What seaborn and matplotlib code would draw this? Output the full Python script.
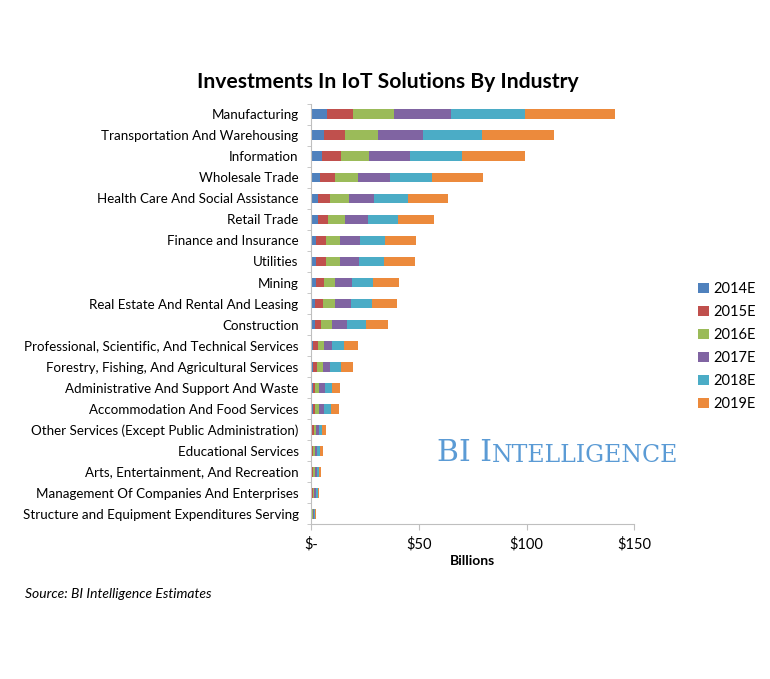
import numpy as np
import pandas as pd
import matplotlib
matplotlib.use('Agg')
import matplotlib.pyplot as plt
import seaborn as sns
from matplotlib.patches import Patch

# 업종
industries = [
    'Manufacturing',
    'Transportation And Warehousing',
    'Information',
    'Wholesale Trade',
    'Health Care And Social Assistance',
    'Retail Trade',
    'Finance and Insurance',
    'Utilities',
    'Mining',
    'Real Estate And Rental And Leasing',
    'Construction',
    'Professional, Scientific, And Technical Services',
    'Forestry, Fishing, And Agricultural Services',
    'Administrative And Support And Waste',
    'Accommodation And Food Services',
    'Other Services (Except Public Administration)',
    'Educational Services',
    'Arts, Entertainment, And Recreation',
    'Management Of Companies And Enterprises',
    'Structure and Equipment Expenditures Serving',
]

years = ['2014E', '2015E', '2016E', '2017E', '2018E', '2019E']

# 연도별 투자액 (Billions)
v2014 = [7.6, 5.9, 5.1, 4.0, 3.3, 3.0, 2.3, 2.3, 2.2, 2.0, 2.0, 1.1, 1.1, 0.9, 0.9, 0.5, 0.4, 0.4, 0.3, 0.2]
v2015 = [11.9, 9.7, 8.6, 7.3, 5.5, 4.9, 4.4, 4.4, 3.7, 3.6, 2.8, 1.9, 1.7, 1.1, 1.0, 0.7, 0.6, 0.5, 0.4, 0.3]
v2016 = [19.1, 15.3, 13.3, 10.6, 8.7, 7.8, 6.6, 6.6, 5.4, 5.3, 5.0, 3.0, 2.5, 1.7, 1.8, 1.0, 0.8, 0.7, 0.6, 0.4]
v2017 = [26.4, 21.1, 18.8, 14.8, 11.8, 10.7, 9.4, 9.0, 7.6, 7.4, 6.7, 3.9, 3.7, 2.7, 2.5, 1.4, 1.1, 1.0, 0.8, 0.5]
v2018 = [34.0, 27.3, 24.0, 19.4, 15.7, 13.8, 11.4, 11.5, 9.9, 9.8, 8.8, 5.3, 4.7, 3.2, 3.2, 1.5, 1.2, 1.1, 0.9, 0.5]
v2019 = [42.0, 33.4, 29.3, 23.8, 18.7, 17.0, 14.6, 14.4, 12.1, 11.6, 10.5, 6.4, 5.7, 3.9, 3.5, 1.7, 1.2, 1.1, 0.9, 0.6]

colors = ['#4f81bd', '#c0504d', '#9bbb59', '#8064a2', '#4bacc6', '#ec8a3c']

df = pd.DataFrame({'industry': industries})
for y, v in zip(years, [v2014, v2015, v2016, v2017, v2018, v2019]):
    df[y] = v
# 누적합
cum = df[years].cumsum(axis=1)
cum['industry'] = industries

plt.rcParams['font.family'] = ['Lato', 'DejaVu Sans']

fig = plt.figure(figsize=(7.7, 6.79), dpi=100)
ax = fig.add_axes([0.404, 0.228, 0.42, 0.619])

# 큰 누적값부터 그려서 누적 막대 만들기
for y, c in reversed(list(zip(years, colors))):
    sns.barplot(data=cum, y='industry', x=y, color=c, saturation=1,
                orient='h', width=0.47, ax=ax)

ax.set_xlim(0, 150)
ax.set_ylim(len(industries) - 0.5, -0.5)
ax.set_xticks([0, 50, 100, 150])
ax.set_xticklabels(['$-', '$50', '$100', '$150'], fontsize=10.5)
ax.set_xlabel('Billions', fontsize=10, fontweight='bold', labelpad=3)
ax.set_ylabel('')
ax.tick_params(axis='y', length=0, labelsize=9.6, pad=9)
ax.set_yticks(np.arange(-0.5, len(industries)), minor=True)
ax.tick_params(axis='y', which='minor', length=3, color='#bfbfbf')
ax.tick_params(axis='x', length=4, color='#bfbfbf', pad=5)
for s in ['top', 'right']:
    ax.spines[s].set_visible(False)
for s in ['left', 'bottom']:
    ax.spines[s].set_color('#bfbfbf')

fig.text(0.504, 0.879, 'Investments In IoT Solutions By Industry',
         ha='center', va='center', fontsize=15.2, fontweight='bold')

handles = [Patch(facecolor=c, label=y) for y, c in zip(years, colors)]
fig.legend(handles=handles, loc='upper left', bbox_to_anchor=(0.907, 0.585),
           frameon=False, fontsize=10.5, handlelength=0.7, handleheight=0.7,
           handletextpad=0.35, labelspacing=0.62, borderpad=0, borderaxespad=0)

# 워터마크
t1 = fig.text(437 / 770, 1 - 453 / 679, 'BI I', color='#5b9bd5',
              fontsize=21.5, family='DejaVu Serif', va='center', ha='left')
fig.canvas.draw()
bb = t1.get_window_extent(fig.canvas.get_renderer())
fig.text(bb.x1 / fig.bbox.width, 1 - 455 / 679, 'NTELLIGENCE', color='#5b9bd5',
         fontsize=17, family='DejaVu Serif', va='center', ha='left')

fig.text(25 / 770, 1 - 594 / 679, 'Source: BI Intelligence Estimates',
         fontsize=10, style='italic', va='center')

fig.savefig('out.png', dpi=100)
